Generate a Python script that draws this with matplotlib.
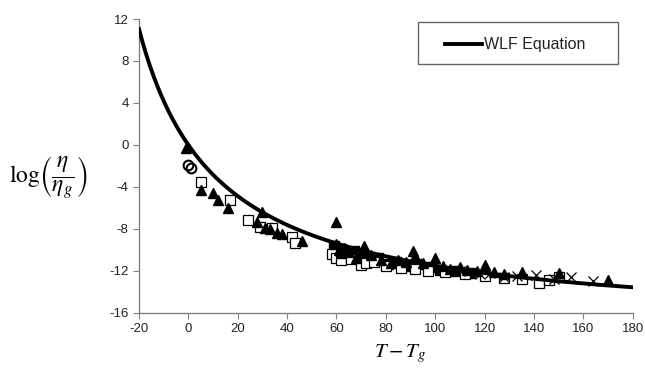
import numpy as np
import matplotlib
matplotlib.use("Agg")
import matplotlib.pyplot as plt
from matplotlib.patches import Rectangle
from matplotlib.lines import Line2D

plt.rcParams['font.family'] = ['Liberation Sans', 'DejaVu Sans']
plt.rcParams['mathtext.fontset'] = 'stix'
plt.rcParams['axes.unicode_minus'] = False

# WLF equation constants
C1 = 17.44
C2 = 51.6
curve_x = np.linspace(-20, 180, 401)

# measured data (T - Tg, log(eta/eta_g))
tri_x = [-1, 5, 10, 12, 16, 28, 30, 31, 33, 36, 38, 46, 60, 60, 61, 62, 63, 65, 68, 71,
         74, 78, 82, 85, 88, 91, 92, 95, 100, 103, 106, 110, 113, 117, 120, 124, 128, 135, 150, 170]
tri_y = [-0.3, -4.3, -4.6, -5.2, -6.0, -7.3, -6.4, -7.9, -8.0, -8.4, -8.5, -9.1, -7.3, -9.4, -10.0,
         -10.3, -9.8, -10.2, -10.8, -9.6, -10.5, -11.0, -11.2, -11.0, -11.1, -10.1, -10.6, -11.2, -10.8,
         -11.5, -11.8, -11.6, -11.9, -12.0, -11.4, -12.1, -12.3, -12.1, -12.2, -12.9]

sq_x = [5, 17, 24, 29, 34, 42, 43, 58, 60, 62, 66, 70, 72, 75, 80, 86, 92, 97, 104, 112,
        120, 128, 135, 142, 146, 150]
sq_y = [-3.5, -5.2, -7.1, -7.8, -7.9, -8.8, -9.3, -10.4, -10.8, -11.0, -10.9, -11.4, -11.2, -11.1,
        -11.5, -11.7, -11.8, -12.0, -12.1, -12.3, -12.5, -12.7, -12.8, -13.1, -12.9, -12.6]

fsq_x = [59, 60, 61, 62, 64, 67, 70, 73, 77, 81, 84, 88, 93, 98, 102, 108, 114]
fsq_y = [-9.6, -10.2, -10.7, -9.9, -10.4, -10.1, -10.6, -10.9, -10.8, -11.3, -11.1, -11.5, -11.3, -11.6,
         -11.9, -12.0, -12.2]

cross_x = [110, 118, 122, 128, 133, 141, 148, 155, 164]
cross_y = [-12.0, -12.3, -12.2, -12.6, -12.5, -12.4, -12.8, -12.6, -13.0]

circ_x = [0, 1]
circ_y = [-1.9, -2.2]

fig = plt.figure(figsize=(6.45, 3.77), dpi=100)
ax = fig.add_axes([0.2155, 0.1698, 0.7655, 0.7798])

ax.plot(fsq_x, fsq_y, 's', ms=6.5, color='black', zorder=3)
ax.plot(sq_x, sq_y, 's', ms=7, mfc='white', mec='black', mew=0.9, zorder=3)
ax.plot(tri_x, tri_y, '^', ms=7, color='black', zorder=4)
ax.plot(cross_x, cross_y, 'x', ms=7, color='black', mew=0.9, zorder=4)
ax.plot(circ_x, circ_y, 'o', ms=7, mfc='none', mec='black', mew=1.5, zorder=4)

wlf_y = -C1 * curve_x / (C2 + curve_x)
ax.plot(curve_x, wlf_y, '-', color='black', lw=2.8, zorder=5)

ax.set_xlim(-20, 180)
ax.set_ylim(-16, 12)
ax.set_xticks(np.arange(-20, 181, 20))
ax.set_yticks(np.arange(-16, 13, 4))

for s in ['top', 'right']:
    ax.spines[s].set_visible(False)
for s in ['left', 'bottom']:
    ax.spines[s].set_color('#808080')
    ax.spines[s].set_linewidth(1.0)
ax.tick_params(direction='out', length=4, color='#808080', labelsize=9.5, labelcolor='#222222')

# legend box drawn in figure coordinates
W, H = 645.0, 377.0
fig.patches.append(Rectangle((418 / W, 1 - 64 / H), 200 / W, 42 / H, transform=fig.transFigure,
                             fill=False, edgecolor='#666666', lw=1.0))
fig.lines.append(Line2D([445 / W, 482 / W], [1 - 44 / H, 1 - 44 / H], transform=fig.transFigure,
                        color='black', lw=2.8))
fig.text(484 / W, 1 - 44 / H, 'WLF Equation', fontsize=11.5, ha='left', va='center', color='#222222')

fig.text(0.075, 0.53, r'$\log\!\left(\dfrac{\eta}{\eta_g}\right)$', fontsize=17,
         ha='center', va='center')
fig.text(0.62, 0.063, r'$T-T_g$', fontsize=15, ha='center', va='center')

fig.savefig('out.png', dpi=100)
